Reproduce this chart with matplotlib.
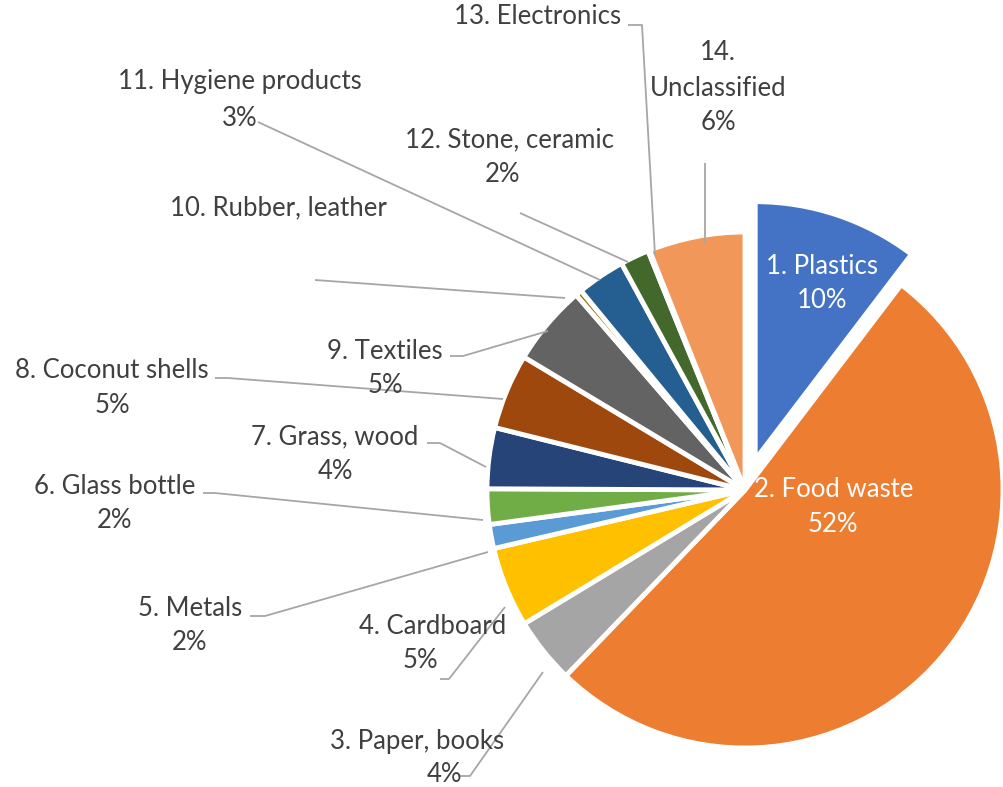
import matplotlib.pyplot as plt

plt.rcParams['font.family'] = ['Lato', 'DejaVu Sans']

categories = ['1. Plastics', '2. Food waste', '3. Paper, books', '4. Cardboard',
              '5. Metals', '6. Glass bottle', '7. Grass, wood', '8. Coconut shells',
              '9. Textiles', '10. Rubber, leather', '11. Hygiene products',
              '12. Stone, ceramic', '13. Electronics', '14. Unclassified']
shares = [10.3, 51.6, 4.1, 5.0, 1.5, 2.2, 3.8, 4.7, 5.0, 0.4, 3.0, 1.8, 0.1, 6.0]
pct_labels = ['10%', '52%', '4%', '5%', '2%', '2%', '4%', '5%', '5%', '', '3%', '2%', '', '6%']
colors = ['#4472C4', '#ED7D31', '#A5A5A5', '#FFC000', '#5B9BD5', '#70AD47', '#264478',
          '#9E480E', '#636363', '#997300', '#255E91', '#43682B', '#698ED0', '#F1975A']

W, H = 1004, 787
fig = plt.figure(figsize=(W / 100, H / 100), dpi=100)
ax = fig.add_axes([0, 0, 1, 1])

# explode is in data units here (axes run in pixels)
explode = [32] + [0] * (len(shares) - 1)
ax.pie(shares, colors=colors, explode=explode, startangle=90, counterclock=False,
       center=(745, H - 490), radius=258,
       wedgeprops=dict(edgecolor='white', linewidth=3.5))

# pie() resets the limits, so set them afterwards
ax.set_xlim(0, W)
ax.set_ylim(0, H)
ax.set_aspect('equal')
ax.axis('off')

txt = '#404040'
line_c = '#A6A6A6'
fs = 18.5

def label(x, y, s, color=txt, ha='center'):
    ax.text(x, H - y, s, ha=ha, va='center', fontsize=fs, color=color)

def leader(pts):
    ax.plot([p[0] for p in pts], [H - p[1] for p in pts], color=line_c, lw=1.3,
            solid_capstyle='butt')

# text placement for each slice: (name position, percent position)
spots = [
    ((822, 267), (822, 301)),
    ((834, 490), (833, 524)),
    ((417, 741), (444, 774)),
    ((433, 627), (420, 661)),
    ((190, 608), (190, 643)),
    ((115, 487), (115, 521)),
    ((335, 437), (335, 472)),
    ((112, 371), (112, 406)),
    ((385, 352), (385, 386)),
    ((278, 208), None),
    ((240, 82), (240, 118)),
    ((510, 140), (503, 175)),
    ((538, 17), None),
    ((718, 87), None),
]

for i, (name, (p_name, p_pct)) in enumerate(zip(categories, spots)):
    c = 'white' if i < 2 else txt
    if i == 13:
        label(718, 52, '14.')
        label(718, 88, 'Unclassified')
        label(718, 123, pct_labels[i])
        continue
    label(*p_name, name, color=c)
    if p_pct is not None and pct_labels[i]:
        label(*p_pct, pct_labels[i], color=c)

leaders = [
    [(458, 776), (470, 776), (543, 672)],
    [(440, 679), (449, 679), (505, 607)],
    [(250, 616), (265, 616), (488, 552)],
    [(203, 493), (215, 493), (483, 520)],
    [(427, 443), (440, 443), (486, 467)],
    [(215, 378), (228, 378), (503, 399)],
    [(450, 356), (463, 356), (548, 331)],
    [(315, 280), (565, 298)],
    [(258, 122), (600, 280)],
    [(520, 213), (628, 262)],
    [(628, 25), (642, 25), (655, 255)],
    [(705, 163), (705, 243)],
]
for pts in leaders:
    leader(pts)

fig.savefig('out.png', dpi=100, facecolor='white')
